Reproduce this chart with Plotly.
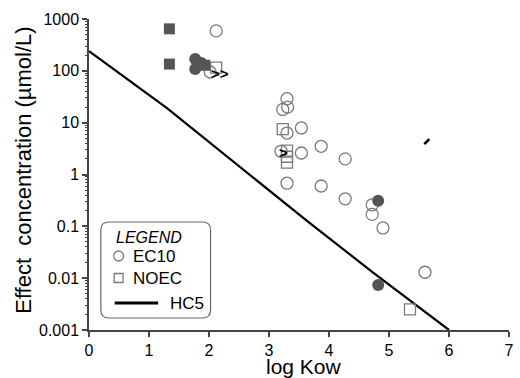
import plotly.graph_objects as go

# EC10 open circles
ec10_x = [2.12, 2.02, 3.30, 3.23, 3.31, 3.30, 3.54, 3.20, 3.54, 3.87, 4.27, 3.30, 3.87, 4.27, 4.72, 4.72, 4.90, 5.60]
ec10_y = [590, 95, 29, 18, 20, 6.3, 7.9, 2.8, 2.6, 3.5, 2.0, 0.68, 0.6, 0.34, 0.26, 0.17, 0.093, 0.013]

# NOEC open squares
noec_x = [2.12, 3.23, 3.30, 3.30, 3.30, 5.35]
noec_y = [115, 7.5, 2.9, 2.2, 1.7, 0.0025]

# filled (dark) squares
fsq_x = [1.34, 1.34, 1.93]
fsq_y = [646, 135, 128]

# filled (dark) circles
fci_x = [1.77, 1.87, 1.77, 4.82, 4.82]
fci_y = [170, 141, 108, 0.31, 0.0074]

# HC5 line
hc5_x = [0.0, 1.3, 3.66, 4.73, 6.0]
hc5_y = [240, 19, 0.12, 0.013, 0.001]

# ">" markers
arr_x = [2.18, 3.24]
arr_y = [82, 2.5]
arr_t = ["<b>>></b>", "<b>></b>"]

# small dash
dash_x = [5.63]
dash_y = [4.3]

grey = "#7a7a7a"
dark = "#555555"

fig = go.Figure()
fig.add_trace(go.Scatter(x=hc5_x, y=hc5_y, mode="lines",
                         line=dict(color="black", width=2.2), showlegend=False))
fig.add_trace(go.Scatter(x=ec10_x, y=ec10_y, mode="markers",
                         marker=dict(symbol="circle-open", size=12, color=grey, line=dict(width=1.3)),
                         showlegend=False))
fig.add_trace(go.Scatter(x=noec_x, y=noec_y, mode="markers",
                         marker=dict(symbol="square-open", size=11, color=grey, line=dict(width=1.3)),
                         showlegend=False))
fig.add_trace(go.Scatter(x=fsq_x, y=fsq_y, mode="markers",
                         marker=dict(symbol="square", size=11, color=dark),
                         showlegend=False))
fig.add_trace(go.Scatter(x=fci_x, y=fci_y, mode="markers",
                         marker=dict(symbol="circle", size=12, color=dark),
                         showlegend=False))
fig.add_trace(go.Scatter(x=arr_x, y=arr_y, mode="text", text=arr_t,
                         textfont=dict(family="Liberation Sans", size=15, color="black"),
                         showlegend=False))
fig.add_trace(go.Scatter(x=dash_x, y=dash_y, mode="markers",
                         marker=dict(symbol="line-ne", size=5, color="black",
                                     line=dict(width=2.5, color="black")),
                         showlegend=False))

W, H = 520, 378
L, R, T, B = 89, 6, 19, 48
pw, ph = W - L - R, H - T - B

def px(x):
    return (x - L) / pw

def py(y):
    return 1 - (y - T) / ph

# manual legend
x0, x1, y0, y1, r = 101, 212, 222, 318, 8
path = (f"M {px(x0+r)},{py(y0)} L {px(x1-r)},{py(y0)} "
        f"Q {px(x1)},{py(y0)} {px(x1)},{py(y0+r)} L {px(x1)},{py(y1-r)} "
        f"Q {px(x1)},{py(y1)} {px(x1-r)},{py(y1)} L {px(x0+r)},{py(y1)} "
        f"Q {px(x0)},{py(y1)} {px(x0)},{py(y1-r)} L {px(x0)},{py(y0+r)} "
        f"Q {px(x0)},{py(y0)} {px(x0+r)},{py(y0)} Z")
shapes = [
    dict(type="path", xref="paper", yref="paper", path=path,
         line=dict(color="#666", width=1.2), fillcolor="white", layer="above"),
    dict(type="circle", xref="paper", yref="paper",
         x0=px(114), x1=px(124), y0=py(261), y1=py(251),
         line=dict(color=grey, width=1.3), layer="above"),
    dict(type="rect", xref="paper", yref="paper",
         x0=px(114.5), x1=px(123.5), y0=py(282.5), y1=py(273.5),
         line=dict(color=grey, width=1.3), layer="above"),
    dict(type="line", xref="paper", yref="paper",
         x0=px(115), x1=px(159), y0=py(303), y1=py(303),
         line=dict(color="black", width=3), layer="above"),
]
ann_font = dict(family="Liberation Sans", size=17, color="black")
annotations = [
    dict(text="<i>LEGEND</i>", x=px(114), y=py(237), xref="paper", yref="paper",
         xanchor="left", yanchor="middle", showarrow=False,
         font=dict(family="Liberation Sans", size=16, color="black")),
    dict(text="EC10", x=px(131), y=py(256), xref="paper", yref="paper",
         xanchor="left", yanchor="middle", showarrow=False, font=ann_font),
    dict(text="NOEC", x=px(131), y=py(278), xref="paper", yref="paper",
         xanchor="left", yanchor="middle", showarrow=False, font=ann_font),
    dict(text="HC5", x=px(169), y=py(303), xref="paper", yref="paper",
         xanchor="left", yanchor="middle", showarrow=False, font=ann_font),
    dict(text="Effect  concentration (µmol/L)", x=px(22), y=py(170),
         xref="paper", yref="paper", textangle=-90, showarrow=False,
         xanchor="center", yanchor="middle",
         font=dict(family="Liberation Sans", size=22, color="black")),
    dict(text="log Kow", x=px(307), y=py(366.5), xref="paper", yref="paper",
         showarrow=False, xanchor="center", yanchor="middle",
         font=dict(family="Liberation Sans", size=21, color="black")),
]

axcol = "#444444"
fig.update_layout(
    width=W, height=H,
    margin=dict(l=L, r=R, t=T, b=B),
    paper_bgcolor="white", plot_bgcolor="white",
    shapes=shapes, annotations=annotations,
    font=dict(family="Liberation Sans", size=16, color="black"),
    xaxis=dict(range=[0, 7.0005], tickvals=[0, 1, 2, 3, 4, 5, 6, 7],
               showgrid=False, zeroline=False, showline=True, linecolor=axcol, linewidth=1.5,
               ticks="outside", ticklen=5, tickcolor=axcol, tickwidth=1.5,
               tickfont=dict(size=16)),
    yaxis=dict(type="log", range=[-3, 3],
               tickvals=[0.001, 0.01, 0.1, 1, 10, 100, 1000],
               ticktext=["0.001", "0.01", "0.1", "1", "10", "100", "1000"],
               showgrid=False, zeroline=False, showline=True, linecolor=axcol, linewidth=1.5,
               ticks="outside", ticklen=5, tickcolor=axcol, tickwidth=1.5,
               tickfont=dict(size=16),
               minor=dict(ticks="outside", ticklen=2.5, tickcolor=axcol, tickwidth=1,
                          dtick="D1", showgrid=False)),
)

fig.write_html("out.html", config={"displayModeBar": False},
               post_script="document.body.style.margin='0';document.body.style.overflow='hidden';")
